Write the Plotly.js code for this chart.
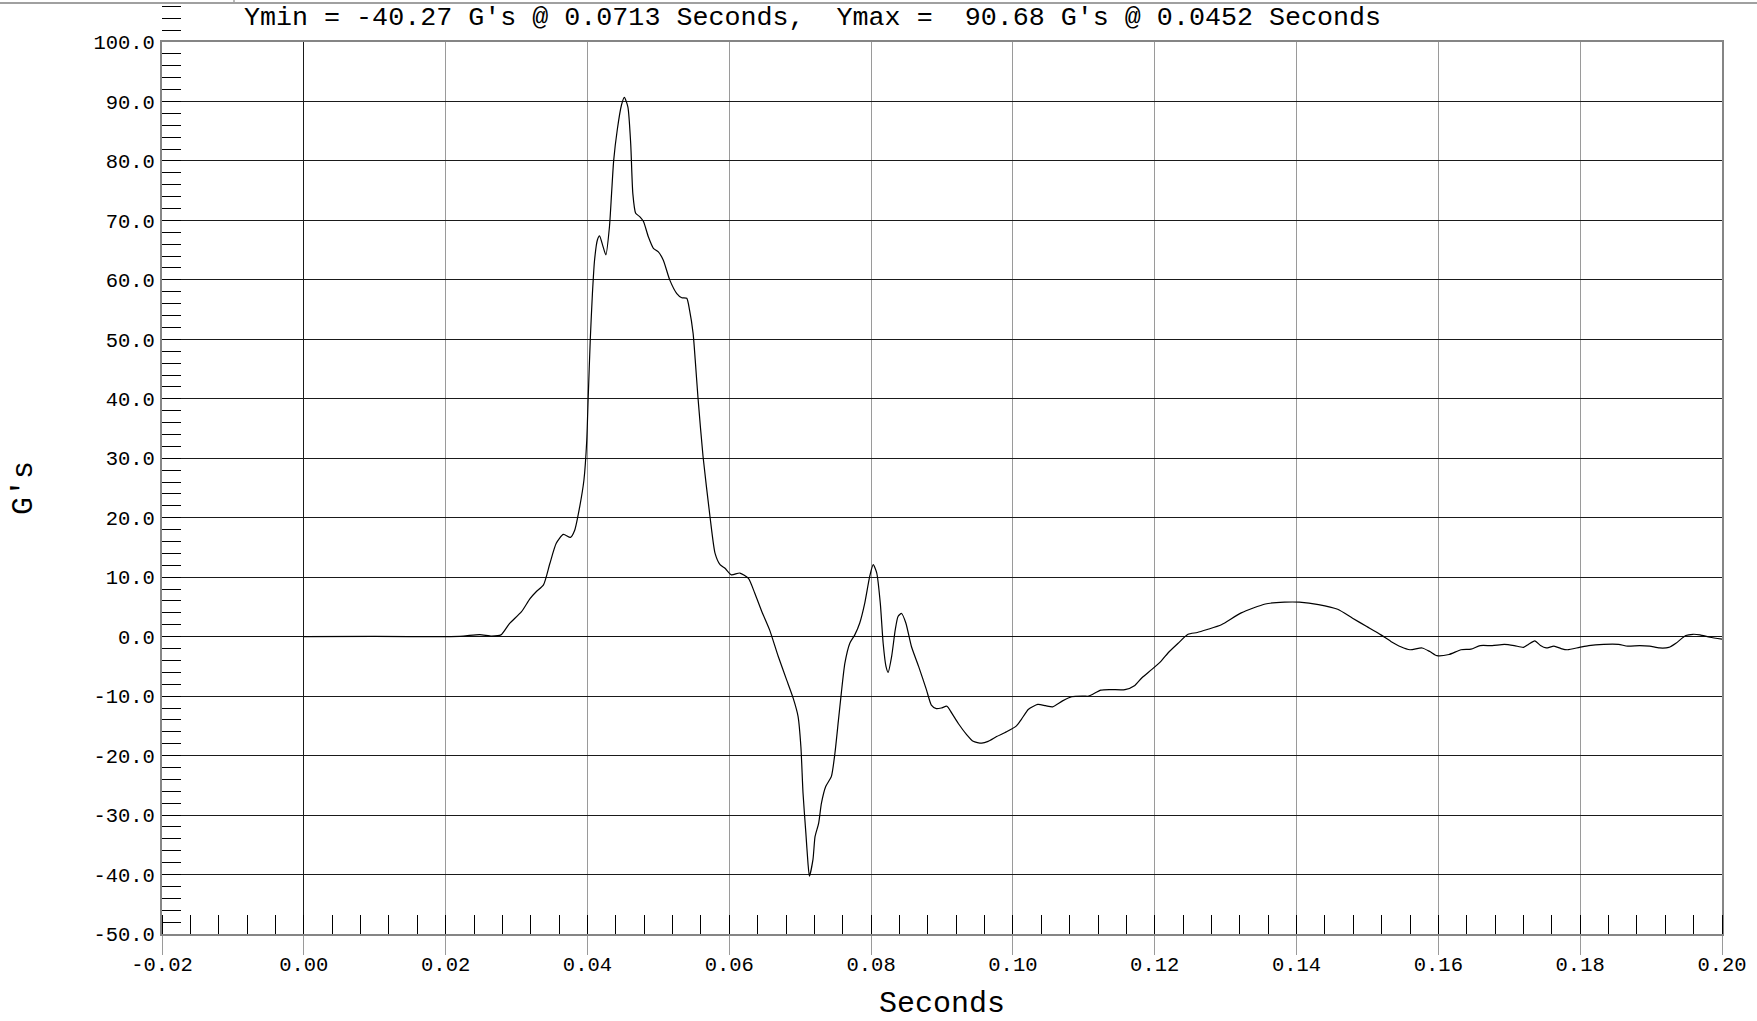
<!DOCTYPE html>
<html>
<head>
<meta charset="utf-8">
<script src="https://cdn.plot.ly/plotly-3.0.1.min.js"></script>
<style>
  html, body { margin: 0; padding: 0; background: #ffffff; }
  #chart { width: 1757px; height: 1021px; }
</style>
</head>
<body>
<div id="chart"></div>
<script>
// ---- data ----
const timeSeconds = [
  0.000, 0.010, 0.020, 0.0225, 0.0248, 0.0265, 0.0278, 0.0290, 0.0307, 0.0319,
  0.0328, 0.0338, 0.0347, 0.0356, 0.0366, 0.0376, 0.0382, 0.0389, 0.0395, 0.0399,
  0.0401, 0.0404, 0.0407, 0.0410, 0.0414, 0.0417, 0.0422, 0.0426, 0.0431, 0.0434,
  0.0437, 0.0442, 0.0448, 0.0452, 0.0457, 0.0461, 0.0464, 0.0468, 0.0474, 0.0479,
  0.0486, 0.0493, 0.0500, 0.0507, 0.0516, 0.0526, 0.0533, 0.0540, 0.0544, 0.0549,
  0.0552, 0.0556, 0.0563, 0.0573, 0.0580, 0.0587, 0.0594, 0.0603, 0.0615, 0.0627,
  0.0636, 0.0646, 0.0657, 0.0669, 0.0681, 0.0690, 0.0697, 0.0701, 0.0704, 0.0708,
  0.0711, 0.0713, 0.0718, 0.0721, 0.0726, 0.0730, 0.0736, 0.0744, 0.0749, 0.0754,
  0.0758, 0.0763, 0.0770, 0.0777, 0.0784, 0.0791, 0.0798, 0.0803, 0.0808, 0.0813,
  0.0817, 0.0821, 0.0824, 0.0829, 0.0834, 0.0838, 0.0843, 0.0849, 0.0857, 0.0867,
  0.0878, 0.0885, 0.0892, 0.0899, 0.0907, 0.0914, 0.0923, 0.0935, 0.0944, 0.0956,
  0.0965, 0.0977, 0.0991, 0.1005, 0.1012, 0.1022, 0.1035, 0.1046, 0.1056, 0.1070,
  0.1083, 0.1100, 0.1107, 0.1124, 0.1138, 0.1158, 0.1172, 0.1182, 0.1196, 0.1209,
  0.1219, 0.1233, 0.1247, 0.1260, 0.1274, 0.1294, 0.1322, 0.1356, 0.1383, 0.1404,
  0.1431, 0.1458, 0.1479, 0.1499, 0.1519, 0.1533, 0.1547, 0.1560, 0.1577, 0.1588,
  0.1598, 0.1615, 0.1632, 0.1646, 0.1659, 0.1676, 0.1693, 0.1707, 0.1720, 0.1727,
  0.1736, 0.1744, 0.1752, 0.1763, 0.1773, 0.1782, 0.1799, 0.1812, 0.1833, 0.1854,
  0.1867, 0.1884, 0.1898, 0.1912, 0.1925, 0.1935, 0.1949, 0.1959, 0.1969, 0.1983,
  0.2000
];
const accelG = [
  0.0, 0.05, 0.0, 0.1, 0.35, 0.1, 0.3, 2.2, 4.2, 6.4,
  7.6, 8.7, 12.3, 15.7, 17.2, 16.7, 17.9, 21.8, 26.3, 33.0,
  40.0, 50.0, 57.7, 63.3, 66.7, 67.4, 65.6, 64.2, 68.9, 74.5,
  80.1, 85.2, 89.4, 90.68, 89.1, 82.9, 74.5, 71.2, 70.6, 69.8,
  67.2, 65.3, 64.7, 63.3, 60.0, 57.7, 57.0, 56.9, 54.9, 51.0,
  46.5, 40.0, 30.3, 20.0, 14.0, 12.1, 11.5, 10.4, 10.7, 9.8,
  7.3, 4.2, 1.1, -3.3, -7.3, -10.3, -13.4, -18.5, -26.3, -33.0,
  -38.1, -40.27, -37.5, -33.6, -31.4, -28.0, -25.2, -23.5, -19.6, -14.0,
  -9.5, -4.5, -1.1, 0.3, 2.3, 5.6, 10.1, 12.1, 10.7, 5.6,
  -1.1, -5.0, -6.0, -3.3, 1.1, 3.4, 3.9, 2.3, -1.7, -5.0,
  -8.9, -11.5, -12.1, -12.0, -11.7, -12.9, -14.6, -16.5, -17.6, -17.9,
  -17.6, -16.8, -16.0, -15.0, -13.9, -12.2, -11.4, -11.6, -11.8, -10.8,
  -10.1, -10.0, -10.0, -9.0, -8.9, -8.9, -8.2, -6.9, -5.5, -4.1,
  -2.7, -1.1, 0.4, 0.7, 1.2, 2.0, 4.0, 5.5, 5.8, 5.8,
  5.4, 4.6, 3.1, 1.7, 0.3, -0.8, -1.7, -2.2, -1.9, -2.5,
  -3.2, -3.0, -2.2, -2.1, -1.5, -1.5, -1.3, -1.5, -1.8, -1.3,
  -0.7, -1.5, -1.9, -1.6, -2.0, -2.2, -1.8, -1.5, -1.3, -1.3,
  -1.6, -1.5, -1.6, -1.9, -1.8, -1.1, 0.2, 0.4, 0.3, -0.1,
  -0.4
];
const xTickVals = [-0.02, 0.00, 0.02, 0.04, 0.06, 0.08, 0.10, 0.12, 0.14, 0.16, 0.18, 0.20];
const xTickText = ["-0.02", "0.00", "0.02", "0.04", "0.06", "0.08", "0.10", "0.12", "0.14", "0.16", "0.18", "0.20"];
const yTickVals = [-50, -40, -30, -20, -10, 0, 10, 20, 30, 40, 50, 60, 70, 80, 90, 100];
const yTickText = ["-50.0", "-40.0", "-30.0", "-20.0", "-10.0", "0.0", "10.0", "20.0", "30.0", "40.0", "50.0", "60.0", "70.0", "80.0", "90.0", "100.0"];
const overTopTicks = [102, 104, 106];
const titleText = "Ymin = -40.27 G's @ 0.0713 Seconds,  Ymax =  90.68 G's @ 0.0452 Seconds";
const xTitle = "Seconds";
const yTitle = "G's";

// ---- layout geometry ----
const W = 1757, H = 1021;
const mL = 162, mR = 35, mT = 4, mB = 87;
const plotTopPx = 42;
const paperH = H - mT - mB;
const paperW = W - mL - mR;
const mainTop = (H - mB - plotTopPx) / paperH;
const yMin = -50, yMax = 100;
const y2Max = yMin + (yMax - yMin) / mainTop;

const FONT = "'Courier New', 'Liberation Mono', monospace";

const traces = [
  {
    x: timeSeconds,
    y: accelG,
    type: 'scatter',
    mode: 'lines',
    line: { color: '#000000', width: 1.2, shape: 'spline', smoothing: 0.6 },
    hoverinfo: 'x+y',
    showlegend: false
  },
  {
    x: [], y: [], xaxis: 'x2', yaxis: 'y2', type: 'scatter', mode: 'lines',
    showlegend: false, hoverinfo: 'skip'
  }
];

const layout = {
  width: W, height: H,
  margin: { l: mL, r: mR, t: mT, b: mB, pad: 0 },
  paper_bgcolor: '#ffffff',
  plot_bgcolor: 'rgba(0,0,0,0)',
  font: { family: FONT, color: '#000000', size: 20 },
  showlegend: false,
  title: {
    text: titleText,
    font: { family: FONT, size: 26.7, color: '#000000' },
    xref: 'container', yref: 'container',
    x: 244 / W, xanchor: 'left',
    y: 1 - 16 / H, yanchor: 'middle'
  },
  xaxis: {
    domain: [0, 1],
    range: [-0.02, 0.2],
    tickmode: 'array', tickvals: xTickVals, ticktext: xTickText,
    ticks: 'outside', ticklen: 19, tickcolor: '#9a9a9a', tickwidth: 1,
    tickfont: { family: FONT, size: 20.5, color: '#000000' },
    ticklabelstandoff: -9,
    showgrid: true, gridcolor: '#9a9a9a', gridwidth: 1,
    zeroline: true, zerolinecolor: '#1a1a1a', zerolinewidth: 1.2,
    showline: true, linecolor: '#858585', linewidth: 2, mirror: true,
    minor: { tick0: 0, dtick: 0.004, ticks: 'inside', ticklen: 19, tickcolor: '#000000', tickwidth: 1, showgrid: false },
    title: { text: xTitle, font: { family: FONT, size: 30, color: '#000000' }, standoff: 25 },
    fixedrange: true
  },
  yaxis: {
    domain: [0, mainTop],
    range: [yMin, yMax],
    tickmode: 'array', tickvals: yTickVals, ticktext: yTickText,
    ticks: 'inside', ticklen: 19, tickcolor: '#000000', tickwidth: 1,
    tickfont: { family: FONT, size: 20.5, color: '#000000' },
    ticklabelstandoff: 1,
    showgrid: true, gridcolor: '#1a1a1a', gridwidth: 1,
    zeroline: true, zerolinecolor: '#111111', zerolinewidth: 1.2,
    showline: true, linecolor: '#858585', linewidth: 2, mirror: true,
    minor: { tick0: 0, dtick: 2, ticks: 'inside', ticklen: 19, tickcolor: '#000000', tickwidth: 1, showgrid: false },
    title: { text: yTitle, font: { family: FONT, size: 30, color: '#000000' }, standoff: 52 },
    fixedrange: true
  },
  xaxis2: {
    domain: [0, 1], range: [-0.02, 0.2], anchor: 'y2',
    showgrid: false, zeroline: false, showline: false, showticklabels: false, ticks: '',
    fixedrange: true
  },
  yaxis2: {
    domain: [0, 1], range: [yMin, y2Max], anchor: 'x2',
    tickmode: 'array', tickvals: overTopTicks,
    ticks: 'inside', ticklen: 19, tickcolor: '#000000', tickwidth: 1,
    showgrid: false, zeroline: false, showline: false, showticklabels: false,
    fixedrange: true
  },
  shapes: [
    { type: 'line', xref: 'paper', yref: 'paper',
      x0: -mL / paperW, x1: (W - mL) / paperW,
      y0: (H - mB - 3) / paperH, y1: (H - mB - 3) / paperH,
      line: { color: '#a0a0a0', width: 2 }, layer: 'above' },
    { type: 'line', xref: 'paper', yref: 'paper',
      x0: (234 - mL) / paperW, x1: (234 - mL) / paperW,
      y0: (H - mB - 3) / paperH, y1: (H - mB) / paperH,
      line: { color: '#a0a0a0', width: 1.5 }, layer: 'above' }
  ]
};

Plotly.newPlot('chart', traces, layout, { displayModeBar: false, staticPlot: true });
</script>
</body>
</html>
